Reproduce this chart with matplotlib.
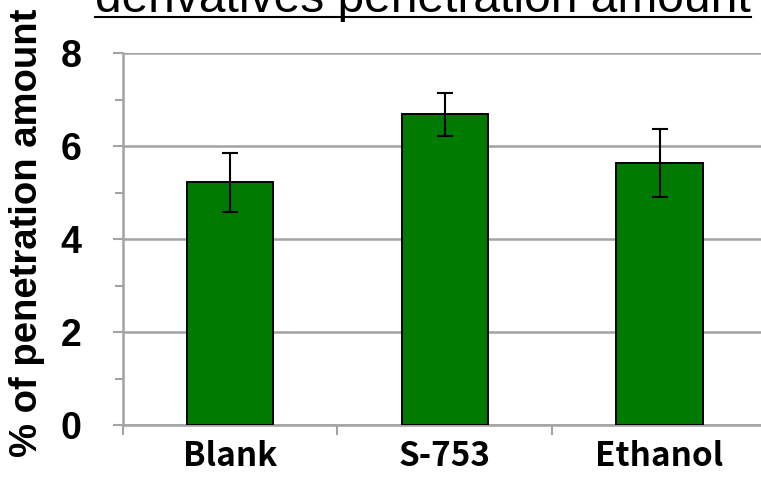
import matplotlib
matplotlib.use("Agg")
import matplotlib.pyplot as plt
from matplotlib.lines import Line2D
from matplotlib.ticker import FixedLocator, NullFormatter, FixedFormatter

categories = ["Blank", "S-753", "Ethanol"]
values = [5.22, 6.69, 5.63]
errors = [0.63, 0.46, 0.73]
y_ticks = [0, 2, 4, 6, 8]
title = "derivatives penetration amount"
ylabel = "% of penetration amount"

W, H, DPI = 761, 480, 100
fig = plt.figure(figsize=(W / DPI, H / DPI), dpi=DPI)

ax_left = 122.7 / W
ax_right = 767 / W
ax_bottom = 1 - 425 / H
ax_top = 1 - 53.3 / H
ax = fig.add_axes([ax_left, ax_bottom, ax_right - ax_left, ax_top - ax_bottom])

grid_col = "#a3a3a3"
x = list(range(len(categories)))
ax.bar(x, values, width=0.403, color="#007a00", edgecolor="black", linewidth=1.4, zorder=3)
ax.errorbar(x, values, yerr=errors, fmt="none", ecolor="black", elinewidth=1.5,
            capsize=6, capthick=1.5, zorder=4)

ax.set_xlim(-0.5, 2.5)
ax.set_ylim(0, 8)

# y axis
ax.yaxis.set_major_locator(FixedLocator(y_ticks))
ax.yaxis.set_minor_locator(FixedLocator([1, 3, 5, 7]))
ax.set_yticklabels([str(v) for v in y_ticks], fontfamily="Liberation Sans",
                   fontweight="bold", fontsize=27)
ax.tick_params(axis="y", which="major", direction="out", length=7.5, width=1.5,
               color=grid_col, pad=22)
ax.tick_params(axis="y", which="minor", direction="out", length=6, width=1.5,
               color=grid_col)
ax.yaxis.grid(True, which="major", color=grid_col, linewidth=1.8, zorder=0)
ax.set_axisbelow(True)

# x axis: boundary ticks + centered labels
ax.xaxis.set_major_locator(FixedLocator([-0.5, 0.5, 1.5, 2.5]))
ax.xaxis.set_major_formatter(NullFormatter())
ax.xaxis.set_minor_locator(FixedLocator(x))
ax.xaxis.set_minor_formatter(FixedFormatter(categories))
ax.tick_params(axis="x", which="major", direction="out", length=7.5, width=1.5,
               color=grid_col)
ax.tick_params(axis="x", which="minor", length=0, pad=11)
for lab in ax.xaxis.get_minorticklabels():
    lab.set_fontfamily(["Noto Sans CJK JP", "DejaVu Sans"])
    lab.set_fontweight("bold")
    lab.set_fontsize(24)

for s in ["top", "right"]:
    ax.spines[s].set_visible(False)
for s in ["left", "bottom"]:
    ax.spines[s].set_color(grid_col)
    ax.spines[s].set_linewidth(1.8)

# y label
fig.text(27 / W, 1 - 232.5 / H, ylabel, rotation=90, ha="center", va="center",
         fontfamily="Liberation Sans", fontweight="bold", fontsize=27.5)

# title (partially cut at top), underlined
t = fig.text(95 / W, 1 - 12.3 / H, title, ha="left", va="baseline",
             fontfamily="Liberation Sans", fontsize=34.5)
fig.canvas.draw()
bb = t.get_window_extent()
uy = 1 - 16.7 / H
fig.add_artist(Line2D([bb.x0 / W, bb.x1 / W], [uy, uy], color="black",
                      linewidth=1.5, transform=fig.transFigure))

fig.savefig("out.png", dpi=DPI)
